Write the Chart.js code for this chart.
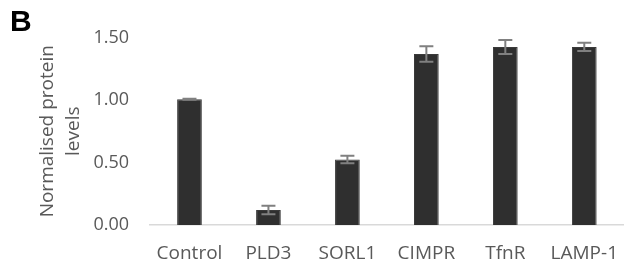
<!DOCTYPE html>
<html>
<head>
<meta charset="utf-8">
<script src="https://cdn.jsdelivr.net/npm/chart.js@4.4.1/dist/chart.umd.min.js"></script>
<style>
    html, body { margin: 0; padding: 0; background: #fff; overflow: hidden; }
    #wrap { position: relative; width: 631px; height: 271px; overflow: hidden; }
    #panel { position: absolute; left: 10px; top: 6px; font: bold 30px "Liberation Sans", Arial, sans-serif; line-height: 1; color: #000; }
    canvas { position: absolute; left: 0; top: 0; }
</style>
</head>
<body>
<div id="wrap">
    <canvas id="proteinChart" width="635" height="271"></canvas>
    <div id="panel">B</div>
</div>
<script>
const categories = ['Control', 'PLD3', 'SORL1', 'CIMPR', 'TfnR', 'LAMP-1'];
const levels = [1.006, 0.12, 0.524, 1.368, 1.424, 1.425];
const errors = [0.004, 0.034, 0.03, 0.062, 0.056, 0.033];
const yTicks = [0, 0.5, 1.0, 1.5];
const yTitle = ['Normalised protein', 'levels'];

const textGray = '#595959';

// draws the error bars on top of the bars, using the y scale
const errorBars = {
    id: 'errorBars',
    afterDatasetsDraw(chart) {
        const ctx = chart.ctx;
        const meta = chart.getDatasetMeta(0);
        const y = chart.scales.y;
        ctx.save();
        ctx.strokeStyle = '#808080';
        ctx.lineWidth = 2;
        meta.data.forEach((bar, i) => {
            const top = y.getPixelForValue(levels[i] + errors[i]);
            const bottom = y.getPixelForValue(levels[i] - errors[i]);
            const x = bar.x;
            ctx.beginPath();
            ctx.moveTo(x, top);
            ctx.lineTo(x, bottom);
            ctx.moveTo(x - 7, top);
            ctx.lineTo(x + 7, top);
            ctx.moveTo(x - 7, bottom);
            ctx.lineTo(x + 7, bottom);
            ctx.stroke();
        });
        ctx.restore();
    }
};

const ctx = document.getElementById('proteinChart').getContext('2d');
new Chart(ctx, {
    type: 'bar',
    data: {
        labels: categories,
        datasets: [{
            data: levels,
            backgroundColor: '#2f2f2f',
            borderColor: '#3a3a3a',
            borderWidth: 1,
            barPercentage: 0.313,
            categoryPercentage: 1
        }]
    },
    options: {
        responsive: false,
        animation: false,
        layout: { padding: { left: 0, right: 0, top: 37.5, bottom: 0 } },
        plugins: {
            legend: { display: false },
            tooltip: { enabled: false }
        },
        scales: {
            x: {
                grid: { display: false, drawTicks: false },
                border: { color: '#d9d9d9', width: 1.5 },
                ticks: {
                    color: textGray,
                    padding: 17,
                    font: { family: 'Open Sans', size: 19 }
                },
                afterFit(scale) { scale.height = 46; }
            },
            y: {
                min: 0,
                max: 1.5,
                afterBuildTicks(scale) {
                    scale.ticks = yTicks.map(v => ({ value: v }));
                },
                grid: { display: false, drawTicks: false },
                border: { display: false },
                ticks: {
                    color: textGray,
                    padding: 21,
                    font: { family: 'Open Sans', size: 18 },
                    callback: v => v.toFixed(2)
                },
                title: {
                    display: true,
                    text: yTitle,
                    color: textGray,
                    padding: { top: 34.5, bottom: 0 },
                    font: { family: 'Open Sans', size: 19, lineHeight: 1.37 }
                },
                afterFit(scale) { scale.width = 150; }
            }
        }
    },
    plugins: [errorBars]
});
</script>
</body>
</html>
